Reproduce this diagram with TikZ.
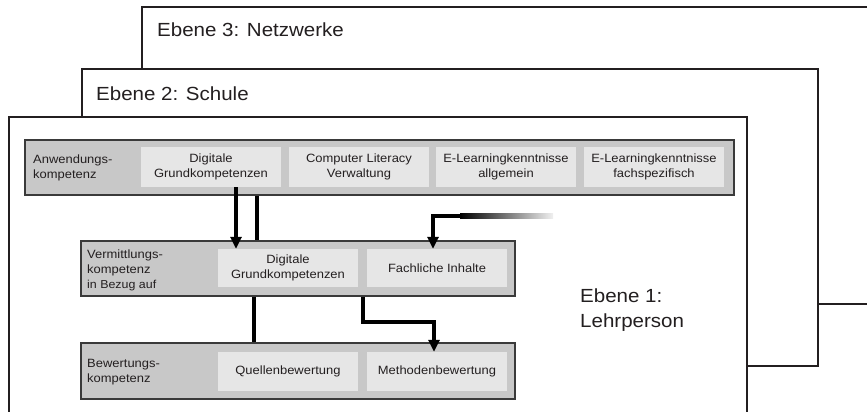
\documentclass[tikz,border=0pt]{standalone}
\usepackage{fontspec}
\setmainfont[FakeStretch=1.08]{Liberation Sans}
\usetikzlibrary{arrows.meta}
\definecolor{ink}{HTML}{231F20}
\definecolor{boxgray}{HTML}{C8C8C8}
\definecolor{cellgray}{HTML}{E6E6E6}
\definecolor{edgegray}{HTML}{3A3A3A}
\newcommand\cellfont{\fontsize{12}{15}\selectfont}
\newcommand\levelfont{\fontsize{19}{25.5}\selectfont}
\begin{document}
\begin{tikzpicture}[x=1pt,y=-1pt,
  frame/.style={draw=ink, line width=2.4pt, fill=white},
  band/.style={draw=edgegray, line width=1.8pt, fill=boxgray, inner sep=0pt},
  cell/.style={fill=cellgray, inner sep=0pt, minimum width=140pt, align=center, font=\cellfont, text=ink},
  lbl/.style={anchor=west, align=left, font=\cellfont, text=ink, inner sep=0pt},
  big/.style={font=\levelfont, text=ink, inner sep=0pt},
  conn/.style={line width=4.5pt, draw=black},
  arr/.style={conn, -{Triangle[width=11pt,length=12pt]}}]
\useasboundingbox (0,0) rectangle (867,412);
\clip (0,0) rectangle (867,412);
% level frames
\path[frame] (142,7) rectangle (900,304);
\path[frame] (82,69) rectangle (818,366);
\path[frame] (9,117) rectangle (747,440);
\node[big, anchor=base west] (e3) at (157,37) {Ebene 3: Netzwerke};
\node[big, anchor=base west] (e2) at (96,100) {Ebene 2: Schule};
\node[big, anchor=west, align=left] (e1) at (580,310) {Ebene 1:\\Lehrperson};
% Anwendungskompetenz
\node[band, minimum width=709pt, minimum height=55pt] (A) at (379.5,167.5) {};
\node[lbl] (la) at (33,168) {Anwendungs-\\kompetenz};
\node[cell, minimum height=40pt] (a1) at (211,167) {Digitale\\Grundkompetenzen};
\node[cell, minimum height=40pt] (a2) at (359,167) {Computer Literacy\\Verwaltung};
\node[cell, minimum height=40pt] (a3) at (506,167) {E-Learningkenntnisse\\allgemein};
\node[cell, minimum height=40pt] (a4) at (654,167) {E-Learningkenntnisse\\fachspezifisch};
% Vermittlungskompetenz
\node[band, minimum width=434pt, minimum height=55pt] (V) at (298,268.5) {};
\node[lbl] (lv) at (87,270) {Vermittlungs-\\kompetenz\\{\fontsize{11.5}{15}\selectfont in Bezug auf}};
\node[cell, minimum height=38pt] (v1) at (288,268) {Digitale\\Grundkompetenzen};
\node[cell, minimum height=38pt] (v2) at (437,268) {Fachliche Inhalte};
% Bewertungskompetenz
\node[band, minimum width=434pt, minimum height=56pt] (B) at (298,371) {};
\node[lbl] (lb) at (87,372) {Bewertungs-\\kompetenz};
\node[cell, minimum height=39pt] (b1) at (288,371.5) {Quellenbewertung};
\node[cell, minimum height=39pt] (b2) at (437,371.5) {Methodenbewertung};
% connectors
\draw[arr] ([xshift=25pt]a1.south) -- ([xshift=-52pt]v1.north);
\draw[conn] ([xshift=-122.5pt]A.south) -- ([xshift=-41pt]V.north);
\coordinate (fadestart) at (462,216);
\shade[left color=black, right color=gray!12] (460,213.75) rectangle (553,218.25);
\draw[arr] (fadestart) -| ([xshift=-4pt]v2.north);
\draw[conn] ([xshift=-44pt]V.south) -- ([xshift=-44pt]B.north);
\draw[arr] ([xshift=65pt]V.south) -- ++(0,25) -| ([xshift=-3pt]b2.north);
\end{tikzpicture}
\end{document}
